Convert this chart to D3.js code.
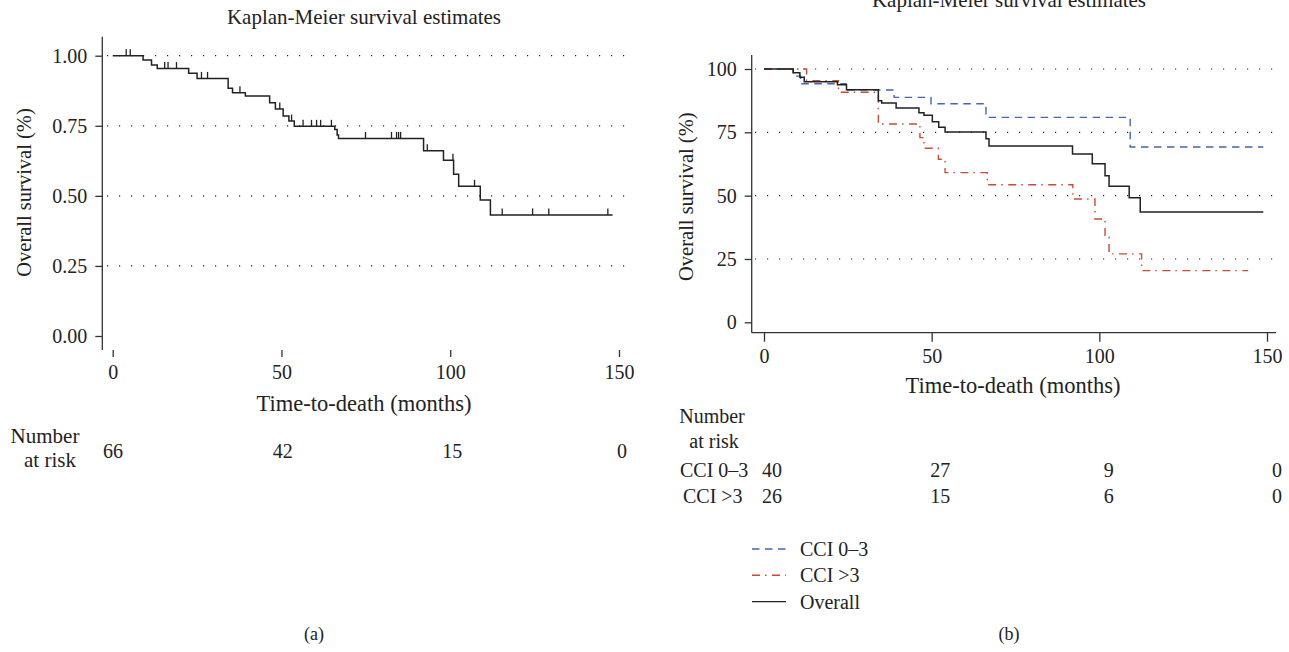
<!DOCTYPE html>
<html>
<head>
<meta charset="utf-8">
<script src="https://cdn.jsdelivr.net/npm/d3@7"></script>
<style>
	body { margin: 0; background: #fff; }
	text { font-family: "Liberation Serif", "DejaVu Serif", serif; font-size: 20px; fill: #222; }
</style>
</head>
<body>
<svg id="chart" width="1289" height="652"></svg>
<script>
// (a) overall KM curve
const allTimes = [0, 9.0, 11.5, 13.2, 22.5, 25.0, 34.2, 35.5, 39.3, 46.5, 48.2, 50.5, 52.2, 53.8, 65.8, 66.5, 66.9, 92.1, 98.0, 101.0, 102.5, 108.9, 111.9]
const allSurv = [1, 0.985, 0.967, 0.954, 0.937, 0.919, 0.884, 0.868, 0.856, 0.832, 0.810, 0.785, 0.767, 0.748, 0.737, 0.717, 0.705, 0.661, 0.627, 0.577, 0.534, 0.485, 0.432]
const allEnd = 148.1
const allCensor = [4.0, 5.2, 15.4, 16.4, 18.9, 26.3, 28.1, 37.7, 49.5, 53.0, 56.4, 58.9, 60.4, 61.6, 64.8, 74.9, 82.6, 84.1, 84.7, 85.3, 93.2, 100.8, 107.2, 115.4, 124.4, 129.2, 146.7]

// (b) by CCI group
const lowTimes = [0, 8.7, 10.9, 24.5, 38.8, 49.8, 66.2, 109.2]
const lowSurv = [100, 97.2, 94.2, 91.7, 88.8, 86.3, 80.9, 69.2]
const lowEnd = 148.9
const highTimes = [0, 12.7, 22.2, 34.1, 46.5, 47.7, 52.0, 54.0, 66.6, 92.1, 98.7, 101.7, 102.9, 112.6]
const highSurv = [100, 95.4, 90.8, 78.3, 72.9, 68.7, 64.4, 59.1, 54.3, 48.7, 40.8, 33.6, 27.0, 20.4]
const highEnd = 144.4
const ovTimes = [0, 8.7, 10.7, 12.0, 21.9, 24.6, 34.1, 35.1, 39.4, 46.2, 47.7, 50.2, 52.1, 54.0, 66.2, 67.1, 92.0, 97.9, 101.7, 102.9, 108.9, 112.2]
const ovSurv = [100, 98.5, 96.7, 95.0, 93.8, 91.8, 87.5, 86.6, 84.6, 82.7, 81.7, 79.2, 77.0, 75.1, 72.5, 69.6, 66.4, 62.6, 57.9, 53.7, 49.2, 43.5]
const ovEnd = 148.9

const xTicks = [0, 50, 100, 150]
const leftYTicks = [0, 0.25, 0.5, 0.75, 1]
const rightYTicks = [0, 25, 50, 75, 100]
const riskAll = [66, 42, 15, 0]
const riskLow = [40, 27, 9, 0]
const riskHigh = [26, 15, 6, 0]

const legendNames = ['CCI 0\u20133', 'CCI >3', 'Overall']
const legendColors = ['#4566b0', '#cc4a36', '#222']
const legendDash = ['7.5,5.5', '8,5,1.5,5.5', null]

const svg = d3.select('#chart')

const stepData = (times, surv, end) => {
	const pts = times.map((t, i) => [t, surv[i]])
	pts.push([end, surv[surv.length - 1]])
	return pts
}
const levelAt = (times, surv, t) => {
	let v = surv[0]
	times.forEach((tt, i) => { if (tt <= t) v = surv[i] })
	return v
}

// ---------- panel (a) ----------
{
	const x = d3.scaleLinear().domain([0, 150]).range([112.7, 619])
	const y = d3.scaleLinear().domain([0, 1]).range([336, 55.7])
	const g = svg.append('g')

	g.append('text').attr('x', 364).attr('y', 24).attr('text-anchor', 'middle').style('font-size', '21px').text('Kaplan-Meier survival estimates')

	g.selectAll('.grid').data(leftYTicks.filter(v => v > 0)).join('line')
		.attr('x1', 107).attr('x2', 626)
		.attr('y1', d => y(d)).attr('y2', d => y(d))
		.attr('stroke', '#222').attr('stroke-width', 1.2).attr('stroke-dasharray', '1.2,10.8')

	const yAxis = g.append('g').attr('transform', 'translate(102.3,0)')
		.call(d3.axisLeft(y).tickValues(leftYTicks).tickFormat(d3.format('.2f')).tickSize(7).tickPadding(8))
	yAxis.select('.domain').attr('d', `M0,36.7V350`)
	yAxis.selectAll('line, path').attr('stroke', '#333').attr('stroke-width', 1.3)
	yAxis.selectAll('text').attr('font-size', 20).style('font-family', '"Liberation Serif", serif').attr('fill', '#222')

	const xAxis = g.append('g').attr('transform', 'translate(0,350)')
		.call(d3.axisBottom(x).tickValues(xTicks).tickSize(7).tickPadding(8))
	xAxis.select('.domain').remove()
	xAxis.selectAll('line').attr('stroke', '#333').attr('stroke-width', 1.3)
	xAxis.selectAll('text').attr('font-size', 20).style('font-family', '"Liberation Serif", serif').attr('fill', '#222')

	g.append('text').attr('x', 364).attr('y', 411).attr('text-anchor', 'middle').style('font-size', '22.5px').text('Time-to-death (months)')
	g.append('text').attr('transform', 'translate(31,192.5) rotate(-90)').attr('text-anchor', 'middle').style('font-size', '20.5px').text('Overall survival (%)')

	const line = d3.line().x(d => x(d[0])).y(d => y(d[1])).curve(d3.curveStepAfter)
	g.append('path').datum(stepData(allTimes, allSurv, allEnd)).attr('d', line)
		.attr('fill', 'none').attr('stroke', '#222').attr('stroke-width', 1.5)

	g.selectAll('.cens').data(allCensor).join('line')
		.attr('x1', d => x(d)).attr('x2', d => x(d))
		.attr('y1', d => y(levelAt(allTimes, allSurv, d)))
		.attr('y2', d => y(levelAt(allTimes, allSurv, d)) - 6.5)
		.attr('stroke', '#222').attr('stroke-width', 1.3)

	g.append('text').attr('x', 45).attr('y', 443).attr('text-anchor', 'middle').style('font-size', '21px').text('Number')
	g.append('text').attr('x', 50).attr('y', 467).attr('text-anchor', 'middle').style('font-size', '21px').text('at risk')
	const rx = d3.scaleLinear().domain([0, 150]).range([113, 622])
	g.selectAll('.risk').data(riskAll).join('text')
		.attr('x', (d, i) => rx(xTicks[i])).attr('y', 458).attr('text-anchor', 'middle').text(d => d)

	g.append('text').attr('x', 314).attr('y', 640).attr('text-anchor', 'middle').style('font-size', '18px').text('(a)')
}

// ---------- panel (b) ----------
{
	const x = d3.scaleLinear().domain([0, 150]).range([764, 1267])
	const y = d3.scaleLinear().domain([0, 100]).range([322.3, 69])
	const g = svg.append('g')

	g.append('text').attr('x', 1009).attr('y', 7).attr('text-anchor', 'middle').style('font-size', '21px').text('Kaplan-Meier survival estimates')

	g.selectAll('.grid').data(rightYTicks.filter(v => v > 0)).join('line')
		.attr('x1', 755).attr('x2', 1274)
		.attr('y1', d => y(d)).attr('y2', d => y(d))
		.attr('stroke', '#222').attr('stroke-width', 1.2).attr('stroke-dasharray', '1.2,10.8')

	const yAxis = g.append('g').attr('transform', 'translate(751.7,0)')
		.call(d3.axisLeft(y).tickValues(rightYTicks).tickSize(7).tickPadding(8))
	yAxis.select('.domain').attr('d', 'M0,55V332.7')
	yAxis.selectAll('line, path').attr('stroke', '#333').attr('stroke-width', 1.3)
	yAxis.selectAll('text').attr('font-size', 20).style('font-family', '"Liberation Serif", serif').attr('fill', '#222')

	const xAxis = g.append('g').attr('transform', 'translate(0,332.7)')
		.call(d3.axisBottom(x).tickValues(xTicks).tickSize(9).tickPadding(7))
	xAxis.select('.domain').attr('d', 'M751.7,0H1276')
	xAxis.selectAll('line, path').attr('stroke', '#333').attr('stroke-width', 1.3)
	xAxis.selectAll('text').attr('font-size', 20).style('font-family', '"Liberation Serif", serif').attr('fill', '#222')

	g.append('text').attr('x', 1013).attr('y', 393).attr('text-anchor', 'middle').style('font-size', '22.5px').text('Time-to-death (months)')
	g.append('text').attr('transform', 'translate(693,196.7) rotate(-90)').attr('text-anchor', 'middle').style('font-size', '20.5px').text('Overall survival (%)')

	const line = d3.line().x(d => x(d[0])).y(d => y(d[1])).curve(d3.curveStepAfter)
	const series = [
		stepData(lowTimes, lowSurv, lowEnd),
		stepData(highTimes, highSurv, highEnd),
		stepData(ovTimes, ovSurv, ovEnd)
	]
	g.selectAll('.km').data(series).join('path')
		.attr('d', line).attr('fill', 'none')
		.attr('stroke', (d, i) => legendColors[i])
		.attr('stroke-width', (d, i) => i === 2 ? 1.5 : 1.4)
		.attr('stroke-dasharray', (d, i) => legendDash[i])

	g.append('text').attr('x', 712).attr('y', 423).attr('text-anchor', 'middle').text('Number')
	g.append('text').attr('x', 714).attr('y', 448).attr('text-anchor', 'middle').text('at risk')
	g.append('text').attr('x', 680).attr('y', 477).text(legendNames[0])
	g.append('text').attr('x', 683).attr('y', 503).text(legendNames[1])
	const rx = d3.scaleLinear().domain([0, 150]).range([772, 1277])
	g.selectAll('.risk1').data(riskLow).join('text')
		.attr('x', (d, i) => rx(xTicks[i])).attr('y', 477).attr('text-anchor', 'middle').text(d => d)
	g.selectAll('.risk2').data(riskHigh).join('text')
		.attr('x', (d, i) => rx(xTicks[i])).attr('y', 503).attr('text-anchor', 'middle').text(d => d)

	const leg = g.selectAll('.leg').data(legendNames).join('g')
		.attr('transform', (d, i) => `translate(752,${549 + i * 26.3})`)
	leg.append('line').attr('x1', 0).attr('x2', 34)
		.attr('stroke', (d, i) => legendColors[i]).attr('stroke-width', 1.4)
		.attr('stroke-dasharray', (d, i) => legendDash[i])
	leg.append('text').attr('x', 48).attr('y', 7).text(d => d)

	g.append('text').attr('x', 1009).attr('y', 640).attr('text-anchor', 'middle').style('font-size', '18px').text('(b)')
}
</script>
</body>
</html>
